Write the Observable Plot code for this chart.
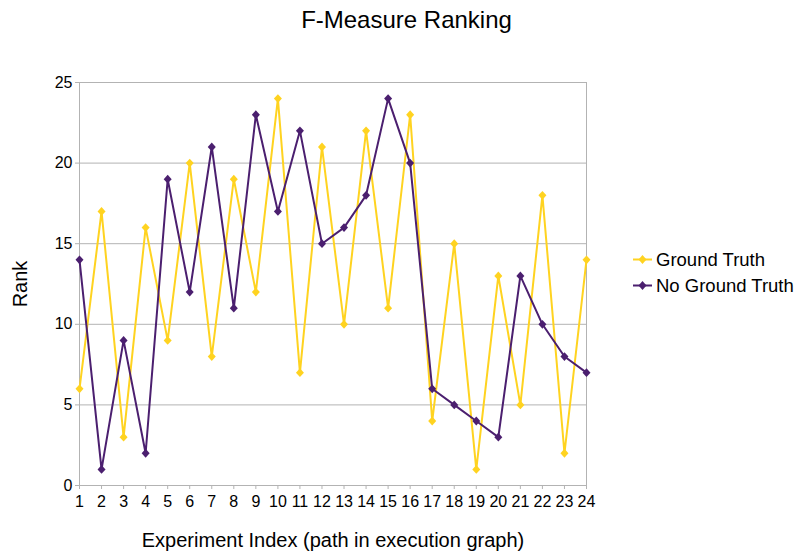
<!DOCTYPE html>
<html>
<head>
<meta charset="utf-8">
<script src="https://cdn.jsdelivr.net/npm/d3@7"></script>
<script src="https://cdn.jsdelivr.net/npm/@observablehq/plot@0.6"></script>
<style>
  html, body { margin: 0; padding: 0; background: #fff; }
  #wrap { position: relative; width: 809px; height: 554px; font-family: "Liberation Sans", Arial, sans-serif; }
  #legend { position: absolute; left: 630px; top: 245px; }
</style>
</head>
<body>
<div id="wrap"></div>
<script>
const experiments = [1,2,3,4,5,6,7,8,9,10,11,12,13,14,15,16,17,18,19,20,21,22,23,24];
const groundTruth = [6,17,3,16,9,20,8,19,12,24,7,21,10,22,11,23,4,15,1,13,5,18,2,14];
const noGroundTruth = [14,1,9,2,19,12,21,11,23,17,22,15,16,18,24,20,6,5,4,3,13,10,8,7];
const rankTicks = [0,5,10,15,20,25];
const seriesNames = ["Ground Truth", "No Ground Truth"];
const seriesColors = ["#ffd320", "#4b1f6f"];

const data = [];
experiments.forEach((e, i) => {
  data.push({series: seriesNames[0], x: e, y: groundTruth[i]});
  data.push({series: seriesNames[1], x: e, y: noGroundTruth[i]});
});

const diamond = {
  draw(context, size) {
    const r = Math.sqrt(size / Math.PI);
    const h = r * 1.1;
    context.moveTo(0, -h);
    context.lineTo(r, 0);
    context.lineTo(0, h);
    context.lineTo(-r, 0);
    context.closePath();
  }
};

const gridColor = "#b3b3b3";
const font = "'Liberation Sans', Arial, sans-serif";

const chart = Plot.plot({
  width: 809,
  height: 554,
  marginLeft: 79,
  marginRight: 223,
  marginTop: 82,
  marginBottom: 69,
  style: {fontFamily: font, fontSize: "16px", background: "white", color: "black"},
  x: {type: "linear", domain: [1, 24]},
  y: {domain: [0, 25]},
  color: {domain: seriesNames, range: seriesColors},
  marks: [
    Plot.gridY(rankTicks, {stroke: gridColor, strokeOpacity: 1, strokeWidth: 1}),
    Plot.frame({stroke: gridColor, strokeWidth: 1}),
    Plot.axisY(rankTicks, {tickSize: 4, tickPadding: 3, stroke: gridColor, fill: "black", fontSize: 16, label: null}),
    Plot.axisX(experiments, {tickSize: 4, tickPadding: 6, stroke: gridColor, fill: "black", fontSize: 16, label: null, tickFormat: d => String(d)}),
    Plot.line(data, {x: "x", y: "y", z: "series", stroke: "series", strokeWidth: 2}),
    Plot.dot(data, {x: "x", y: "y", fill: "series", symbol: diamond, r: 4, stroke: null}),
    Plot.text([ "F-Measure Ranking" ], {frameAnchor: "top", text: d => d, textAnchor: "middle", lineAnchor: "middle", dx: 73.5, dy: -62, fontSize: 24, fill: "black"}),
    Plot.text([ "Experiment Index (path in execution graph)" ], {frameAnchor: "bottom", text: d => d, textAnchor: "middle", lineAnchor: "middle", dy: 55, fontSize: 20, fill: "black"}),
    Plot.text([ "Rank" ], {frameAnchor: "left", text: d => d, textAnchor: "middle", lineAnchor: "middle", dx: -58.5, rotate: -90, fontSize: 20, fill: "black"})
  ]
});

const wrap = document.getElementById("wrap");
wrap.appendChild(chart);

// Legend
const legend = d3.select(wrap).append("svg")
  .attr("id", "legend")
  .attr("width", 179)
  .attr("height", 60)
  .style("font-family", font);
seriesNames.forEach((name, i) => {
  const cy = 15 + i * 26;
  const g = legend.append("g");
  g.append("line").attr("x1", 3).attr("x2", 22).attr("y1", cy - 0.5).attr("y2", cy - 0.5)
    .attr("stroke", seriesColors[i]).attr("stroke-width", 2);
  g.append("path").attr("transform", `translate(12.5,${cy - 0.5})`)
    .attr("d", "M0,-4.4L4,0L0,4.4L-4,0Z").attr("fill", seriesColors[i]);
  g.append("text").attr("x", 26).attr("y", cy).attr("dy", "0.35em")
    .attr("font-size", 18.5).attr("fill", "black").text(name);
});
</script>
</body>
</html>
